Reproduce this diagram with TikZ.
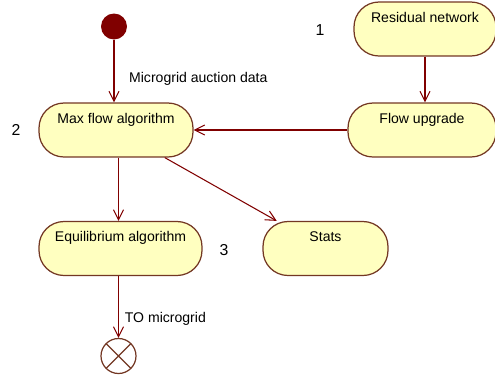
\documentclass[tikz,border=0pt]{standalone}
\usepackage{fontspec}
\setmainfont{Liberation Sans}
\usepackage{tikz}
\usetikzlibrary{arrows.meta}

\definecolor{maroon}{RGB}{128,0,0}
\definecolor{boxborder}{RGB}{115,55,35}
\definecolor{boxfill}{RGB}{255,255,192}

\tikzset{
    state/.style={draw=boxborder,line width=0.7pt,fill=boxfill,rounded corners=0.5cm,inner xsep=0pt,inner ysep=0pt,
        text height=0.4cm,text depth=0.68cm,font=\fontsize{8}{9}\selectfont},
    flow/.style={draw=maroon,line width=0.6pt,-{Straight Barb[length=2mm,width=2mm]}},
    num/.style={font=\fontsize{9}{10}\selectfont}
}

\begin{document}
\begin{tikzpicture}[x=0.02cm,y=-0.02cm]
            \useasboundingbox (0,0) rectangle (495,376);
            \node[circle,fill=maroon,minimum size=0.52cm,inner sep=0pt] (init) at (114,26.5) {};
            \node[state,minimum width=3.08cm] (maxflow) at (116,130) {Max flow algorithm};
            \node[state,minimum width=2.84cm] (residual) at (425,29) {Residual network};
            \node[state,minimum width=2.96cm] (upgrade) at (422,130) {Flow upgrade};
            \node[state,minimum width=3.26cm] (equilibrium) at (120.5,248.5) {Equilibrium algorithm};
            \node[state,minimum width=2.5cm] (stats) at (325.5,248.5) {Stats};
            \node[circle,draw=boxborder,line width=0.7pt,minimum size=0.7cm,inner sep=0pt,
                path picture={\draw[boxborder,line width=0.7pt] (path picture bounding box.north west) -- (path picture bounding box.south east)
                    (path picture bounding box.north east) -- (path picture bounding box.south west);}] (final) at (118.5,356) {};
            \node[num] (n1) at (320,30) {1};
            \node[num] (n2) at (16,130) {2};
            \node[num] (n3) at (224,250) {3};
            \draw[flow] (init) -- (init |- maxflow.north)
                node[pos=0.62,right=5pt,font=\fontsize{8}{9}\selectfont] {Microgrid auction data};
            \draw[flow] (residual) -- (residual |- upgrade.north);
            \draw[flow] (upgrade) -- (maxflow);
            \draw[flow] (maxflow.south -| final) -- (equilibrium.north -| final);
            \draw[flow] (maxflow) -- (stats);
            \draw[flow] (equilibrium.south -| final) -- (final)
                node[pos=0.7,right=0pt,font=\fontsize{8}{9}\selectfont] {TO microgrid};
        \end{tikzpicture}
\end{document}
